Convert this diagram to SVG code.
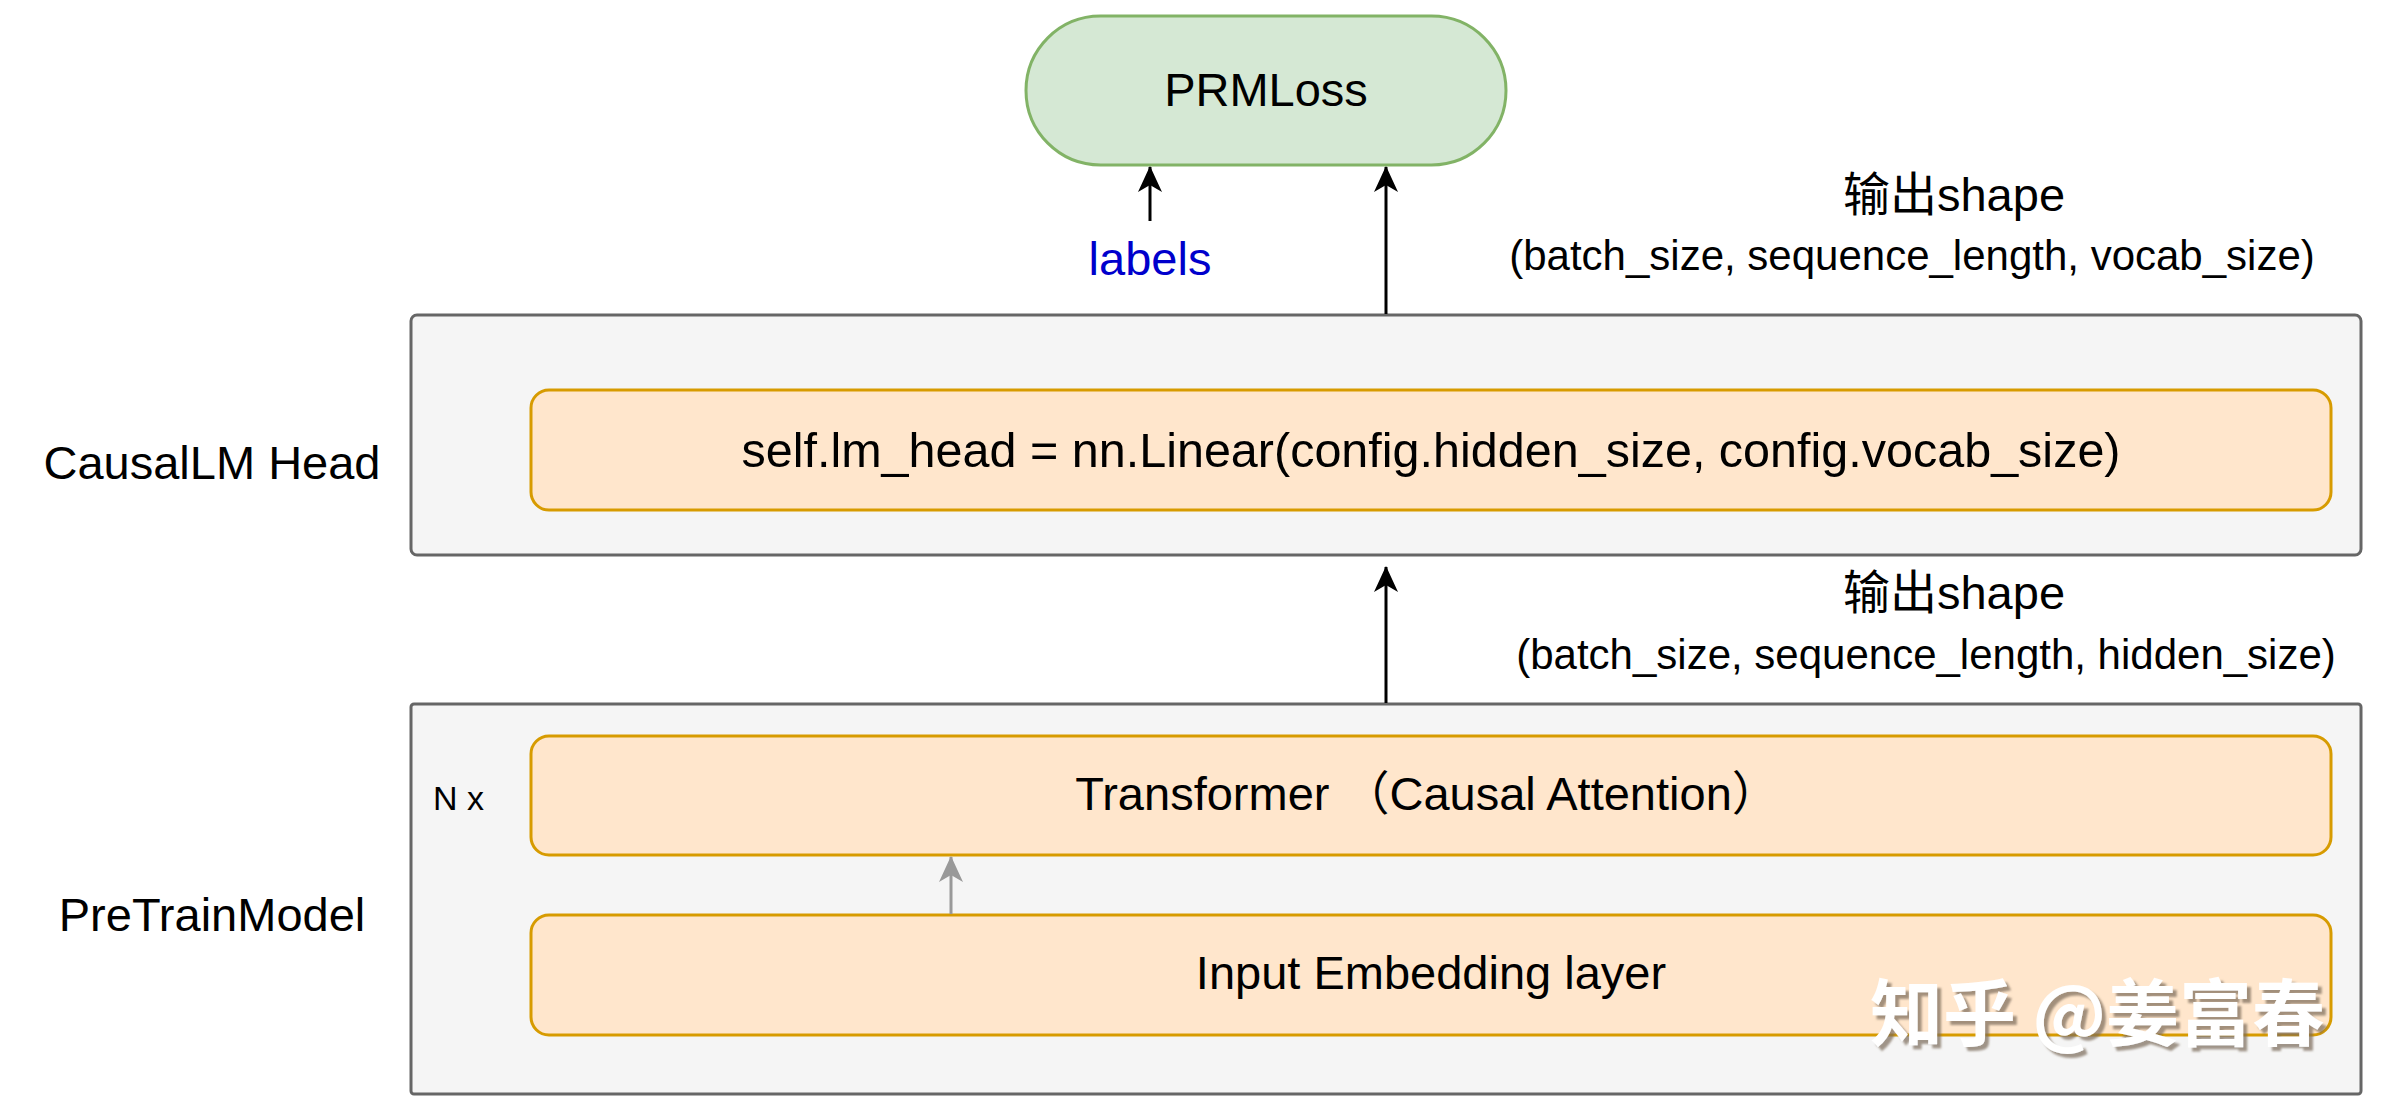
<svg xmlns="http://www.w3.org/2000/svg" width="2381" height="1115" viewBox="0 0 2381 1115">
<style>
text{font-family:"Liberation Sans",Arial,"Noto Sans CJK SC",sans-serif;fill:#000}
.t{font-size:47px}
.s{font-size:42px}
.c{text-anchor:middle}
.outer{fill:#f5f5f5;stroke:#666666;stroke-width:3}
.inner{fill:#ffe6cc;stroke:#d79b00;stroke-width:3}
.edge{stroke:#000;stroke-width:3;fill:none}
.edge2{stroke:#999999;stroke-width:3;fill:none}
</style>
<defs>
<marker id="a1" viewBox="0 0 26 26" refX="25" refY="13" markerWidth="26" markerHeight="26" markerUnits="userSpaceOnUse" orient="auto">
<path d="M0,1 L26,13 L0,25 L7,13 Z" fill="#000"/>
</marker>
<marker id="a2" viewBox="0 0 26 26" refX="25" refY="13" markerWidth="26" markerHeight="26" markerUnits="userSpaceOnUse" orient="auto">
<path d="M0,1 L26,13 L0,25 L7,13 Z" fill="#999999"/>
</marker>
<filter id="sh" x="-10%" y="-30%" width="130%" height="160%">
<feDropShadow dx="4" dy="4" stdDeviation="1" flood-color="#7a6a5a" flood-opacity="0.7"/>
</filter>
</defs>

<g id="causallm-head">
<rect class="outer" x="411" y="315" width="1950" height="240" rx="6"/>
<text class="t c" x="212" y="479">CausalLM Head</text>
</g>
<g id="lm-head">
<rect class="inner" x="531" y="390" width="1800" height="120" rx="18"/>
<text class="c" x="1431" y="467" style="font-size:48.5px">self.lm_head = nn.Linear(config.hidden_size, config.vocab_size)</text>
</g>
<g id="pretrain-model">
<rect class="outer" x="411" y="704" width="1950" height="390" rx="3"/>
<text class="t c" x="212" y="931">PreTrainModel</text>
<text x="433" y="810" style="font-size:34px">N x</text>
</g>
<g id="transformer">
<rect class="inner" x="531" y="736" width="1800" height="119" rx="18"/>
<text class="t c" x="1427" y="810">Transformer （Causal Attention）</text>
</g>
<g id="embedding">
<rect class="inner" x="531" y="915" width="1800" height="120" rx="18"/>
<text class="t c" x="1431" y="989">Input Embedding layer</text>
</g>
<g id="prmloss">
<rect x="1026" y="16" width="480" height="149" rx="74.5" fill="#d5e8d4" stroke="#82b366" stroke-width="3"/>
<text class="t c" x="1266" y="106">PRMLoss</text>
</g>
<g id="labels">
<text class="t c" x="1150" y="275" style="fill:#0000cc">labels</text>
</g>
<g id="shape-vocab">
<text class="t c" x="1954" y="211">输出shape</text>
<text class="s c" x="1912" y="270">(batch_size, sequence_length, vocab_size)</text>
</g>
<g id="shape-hidden">
<text class="t c" x="1954" y="609">输出shape</text>
<text class="s c" x="1926" y="669">(batch_size, sequence_length, hidden_size)</text>
</g>

<g id="connectors">
<line class="edge" x1="1386" y1="314" x2="1386" y2="167" marker-end="url(#a1)"/>
<line class="edge" x1="1150" y1="221" x2="1150" y2="167" marker-end="url(#a1)"/>
<line class="edge" x1="1386" y1="703" x2="1386" y2="567" marker-end="url(#a1)"/>
<line class="edge2" x1="951" y1="914" x2="951" y2="857" marker-end="url(#a2)"/>
</g>

<g id="watermark">
<text x="2325" y="1040" style="font-size:73px;text-anchor:end;fill:#ffffff;font-family:'Noto Sans CJK SC',sans-serif;font-weight:bold" filter="url(#sh)">知乎 @姜富春</text>
</g>
</svg>
